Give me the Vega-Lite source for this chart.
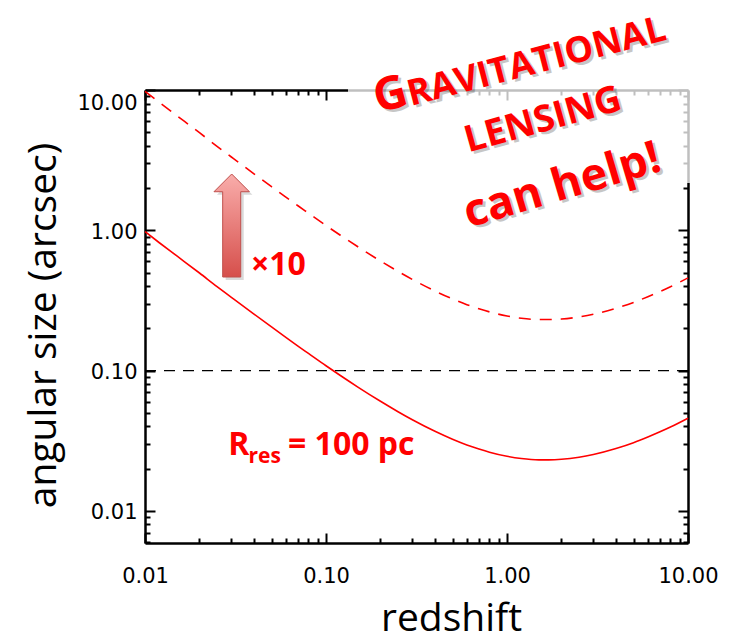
{
  "$schema": "https://vega.github.io/schema/vega-lite/v6.json",
  "width": 543,
  "height": 453,
  "autosize": {"type": "none"},
  "padding": {"left": 145, "top": 90, "right": 43, "bottom": 97},
  "background": "white",
  "config": {
    "view": {"stroke": null},
    "axis": {
      "grid": false,
      "domainColor": "black",
      "domainWidth": 2.5,
      "tickColor": "black",
      "tickWidth": 2,
      "labelFont": "DejaVu Sans",
      "labelFontSize": 21,
      "labelColor": "black",
      "titleFont": "Open Sans",
      "titleFontSize": 39,
      "titleFontWeight": "normal",
      "titleColor": "black"
    }
  },
  "datasets": {
    "resolved": [
      {"z": 0.01, "theta": 0.978}, {"z": 0.012, "theta": 0.815}, {"z": 0.015, "theta": 0.656},
      {"z": 0.02, "theta": 0.496}, {"z": 0.025, "theta": 0.397}, {"z": 0.03, "theta": 0.333},
      {"z": 0.04, "theta": 0.2527}, {"z": 0.05, "theta": 0.2046}, {"z": 0.06, "theta": 0.1725},
      {"z": 0.07, "theta": 0.1496}, {"z": 0.08, "theta": 0.1325}, {"z": 0.1, "theta": 0.1082},
      {"z": 0.12, "theta": 0.0922}, {"z": 0.15, "theta": 0.0763}, {"z": 0.2, "theta": 0.0604},
      {"z": 0.25, "theta": 0.0509}, {"z": 0.3, "theta": 0.0446}, {"z": 0.4, "theta": 0.0369},
      {"z": 0.5, "theta": 0.0324}, {"z": 0.6, "theta": 0.0295}, {"z": 0.7, "theta": 0.0276},
      {"z": 0.8, "theta": 0.0262}, {"z": 1.0, "theta": 0.0245}, {"z": 1.2, "theta": 0.0236},
      {"z": 1.5, "theta": 0.0231}, {"z": 1.7, "theta": 0.0231}, {"z": 2.0, "theta": 0.0233},
      {"z": 2.5, "theta": 0.0241}, {"z": 3.0, "theta": 0.0252}, {"z": 4.0, "theta": 0.0278},
      {"z": 5.0, "theta": 0.0306}, {"z": 6.0, "theta": 0.0336}, {"z": 7.0, "theta": 0.0366},
      {"z": 8.0, "theta": 0.0396}, {"z": 10.0, "theta": 0.0458}
    ],
    "lensed": [
      {"z": 0.01, "theta": 9.78}, {"z": 0.012, "theta": 8.15}, {"z": 0.015, "theta": 6.56},
      {"z": 0.02, "theta": 4.96}, {"z": 0.025, "theta": 3.97}, {"z": 0.03, "theta": 3.33},
      {"z": 0.04, "theta": 2.527}, {"z": 0.05, "theta": 2.046}, {"z": 0.06, "theta": 1.725},
      {"z": 0.07, "theta": 1.496}, {"z": 0.08, "theta": 1.325}, {"z": 0.1, "theta": 1.082},
      {"z": 0.12, "theta": 0.922}, {"z": 0.15, "theta": 0.763}, {"z": 0.2, "theta": 0.604},
      {"z": 0.25, "theta": 0.509}, {"z": 0.3, "theta": 0.446}, {"z": 0.4, "theta": 0.369},
      {"z": 0.5, "theta": 0.324}, {"z": 0.6, "theta": 0.295}, {"z": 0.7, "theta": 0.276},
      {"z": 0.8, "theta": 0.262}, {"z": 1.0, "theta": 0.245}, {"z": 1.2, "theta": 0.236},
      {"z": 1.5, "theta": 0.231}, {"z": 1.7, "theta": 0.231}, {"z": 2.0, "theta": 0.233},
      {"z": 2.5, "theta": 0.241}, {"z": 3.0, "theta": 0.252}, {"z": 4.0, "theta": 0.278},
      {"z": 5.0, "theta": 0.306}, {"z": 6.0, "theta": 0.336}, {"z": 7.0, "theta": 0.366},
      {"z": 8.0, "theta": 0.396}, {"z": 10.0, "theta": 0.458}
    ]
  },
  "layer": [
    {
      "description": "resolution limit at 0.1 arcsec",
      "data": {"values": [{}]},
      "mark": {"type": "rule", "color": "black", "strokeWidth": 1.3, "strokeDash": [11, 8]},
      "encoding": {
        "y": {"datum": 0.1, "type": "quantitative", "scale": {"type": "log", "domain": [0.0059, 10], "nice": false}, "axis": null}
      }
    },
    {
      "description": "angular size of a 100 pc clump",
      "data": {"name": "resolved"},
      "mark": {"type": "line", "color": "#ff0000", "strokeWidth": 1.6, "interpolate": "monotone"},
      "encoding": {
        "x": {
          "field": "z", "type": "quantitative",
          "scale": {"type": "log", "domain": [0.01, 10], "nice": false},
          "axis": {
            "orient": "bottom",
            "values": [0.01, 0.02, 0.03, 0.04, 0.05, 0.06, 0.07, 0.08, 0.09, 0.1, 0.2, 0.3, 0.4, 0.5, 0.6, 0.7, 0.8, 0.9, 1, 2, 3, 4, 5, 6, 7, 8, 9, 10],
            "tickSize": {"condition": {"test": "indexof([0.01, 0.1, 1, 10], datum.value) >= 0", "value": -10}, "value": -5},
            "labelExpr": "indexof([0.01, 0.1, 1, 10], datum.value) >= 0 ? format(datum.value, '.2f') : ''",
            "labelFlush": false,
            "labelOverlap": false,
            "labelPadding": 32,
            "title": "redshift",
            "titleX": 306,
            "titleY": 87,
            "titleBaseline": "alphabetic",
            "titleAlign": "center"
          }
        },
        "y": {
          "field": "theta", "type": "quantitative",
          "scale": {"type": "log", "domain": [0.0059, 10], "nice": false},
          "axis": {
            "orient": "left",
            "values": [0.006, 0.007, 0.008, 0.009, 0.01, 0.02, 0.03, 0.04, 0.05, 0.06, 0.07, 0.08, 0.09, 0.1, 0.2, 0.3, 0.4, 0.5, 0.6, 0.7, 0.8, 0.9, 1, 2, 3, 4, 5, 6, 7, 8, 9, 10],
            "tickSize": {"condition": {"test": "indexof([0.01, 0.1, 1, 10], datum.value) >= 0", "value": -10}, "value": -5},
            "labelExpr": "indexof([0.01, 0.1, 1, 10], datum.value) >= 0 ? format(datum.value, '.2f') : ''",
            "labelFlush": true,
            "labelOverlap": false,
            "labelPadding": 18,
            "labelOffset": 2,
            "title": "angular size (arcsec)",
            "titleAngle": -90,
            "titleX": -90,
            "titleY": 235,
            "titleBaseline": "alphabetic",
            "titleAlign": "center"
          }
        }
      }
    },
    {
      "description": "same clump magnified ten times",
      "data": {"name": "lensed"},
      "mark": {"type": "line", "color": "#ff0000", "strokeWidth": 1.6, "strokeDash": [12, 9], "interpolate": "monotone"},
      "encoding": {
        "x": {
          "field": "z", "type": "quantitative",
          "scale": {"type": "log", "domain": [0.01, 10], "nice": false},
          "axis": {
            "orient": "top",
            "values": [0.01, 0.02, 0.03, 0.04, 0.05, 0.06, 0.07, 0.08, 0.09, 0.1, 0.2, 0.3, 0.4, 0.5, 0.6, 0.7, 0.8, 0.9, 1, 2, 3, 4, 5, 6, 7, 8, 9, 10],
            "tickSize": {"condition": {"test": "indexof([0.01, 0.1, 1, 10], datum.value) >= 0", "value": -10}, "value": -5},
            "labels": false,
            "title": null
          }
        },
        "y": {
          "field": "theta", "type": "quantitative",
          "scale": {"type": "log", "domain": [0.0059, 10], "nice": false},
          "axis": {
            "orient": "right",
            "values": [0.006, 0.007, 0.008, 0.009, 0.01, 0.02, 0.03, 0.04, 0.05, 0.06, 0.07, 0.08, 0.09, 0.1, 0.2, 0.3, 0.4, 0.5, 0.6, 0.7, 0.8, 0.9, 1, 2, 3, 4, 5, 6, 7, 8, 9, 10],
            "tickSize": {"condition": {"test": "indexof([0.01, 0.1, 1, 10], datum.value) >= 0", "value": -10}, "value": -5},
            "labels": false,
            "title": null
          }
        }
      }
    },
    {
      "description": "translucent backing of the callout box",
      "data": {"values": [{}]},
      "mark": {"type": "rect", "fill": "white", "opacity": 0.75},
      "encoding": {
        "x": {"datum": 0.1323, "type": "quantitative", "axis": null},
        "x2": {"datum": 20},
        "y": {"datum": 2.173, "type": "quantitative", "axis": null},
        "y2": {"datum": 40}
      }
    },
    {
      "description": "magnification arrow",
      "data": {"values": [{"z": 0.03013, "theta": 1.0816}]},
      "encoding": {
        "x": {"field": "z", "type": "quantitative", "axis": null},
        "y": {"field": "theta", "type": "quantitative", "axis": null}
      },
      "layer": [
        {
          "mark": {"type": "point", "shape": "M0,-1L0.344,-0.656L0.175,-0.656L0.175,1L-0.175,1L-0.175,-0.656L-0.344,-0.656Z", "size": 10609, "filled": true, "fill": "#000000", "fillOpacity": 0.15, "strokeWidth": 0, "xOffset": 3, "yOffset": 3}
        },
        {
          "mark": {
            "type": "point",
            "shape": "M0,-1L0.344,-0.656L0.175,-0.656L0.175,1L-0.175,1L-0.175,-0.656L-0.344,-0.656Z",
            "size": 10609,
            "filled": true,
            "fill": {"gradient": "linear", "x1": 0, "y1": 0, "x2": 0, "y2": 1, "stops": [{"offset": 0, "color": "#f9adab"}, {"offset": 1, "color": "#d64f4b"}]},
            "fillOpacity": 1,
            "stroke": "#c0504d",
            "strokeWidth": 1,
            "opacity": 1
          }
        }
      ]
    },
    {
      "data": {"values": [{"z": 0.03852, "theta": 0.48, "label": "×10"}]},
      "mark": {"type": "text", "font": "Open Sans", "fontWeight": "bold", "fontSize": 32, "color": "#ff0000", "align": "left", "baseline": "alphabetic"},
      "encoding": {
        "x": {"field": "z", "type": "quantitative", "axis": null},
        "y": {"field": "theta", "type": "quantitative", "axis": null},
        "text": {"field": "label"}
      }
    },
    {
      "data": {"values": [{"z": 0.02885, "theta": 0.02501, "label": "R"}, {"z": 0.06166, "theta": 0.02501, "label": "= 100 pc"}]},
      "mark": {"type": "text", "font": "Open Sans", "fontWeight": "bold", "fontSize": 32, "color": "#ff0000", "align": "left", "baseline": "alphabetic"},
      "encoding": {
        "x": {"field": "z", "type": "quantitative", "axis": null},
        "y": {"field": "theta", "type": "quantitative", "axis": null},
        "text": {"field": "label"}
      }
    },
    {
      "data": {"values": [{"z": 0.03731, "theta": 0.02182, "label": "res"}]},
      "mark": {"type": "text", "font": "Open Sans", "fontWeight": "bold", "fontSize": 21, "color": "#ff0000", "align": "left", "baseline": "alphabetic"},
      "encoding": {
        "x": {"field": "z", "type": "quantitative", "axis": null},
        "y": {"field": "theta", "type": "quantitative", "axis": null},
        "text": {"field": "label"}
      }
    },
    {
      "description": "callout, first line: large initial",
      "data": {"values": [{"z": 0.19379, "theta": 6.856, "label": "G"}]},
      "encoding": {
        "x": {"field": "z", "type": "quantitative", "axis": null},
        "y": {"field": "theta", "type": "quantitative", "axis": null},
        "text": {"field": "label"}
      },
      "layer": [
        {"mark": {"type": "text", "font": "Open Sans", "fontWeight": "bold", "fontSize": 46, "angle": -15, "align": "left", "baseline": "alphabetic", "color": "#000000", "opacity": 0.22, "dx": 2, "dy": 3}},
        {"mark": {"type": "text", "font": "Open Sans", "fontWeight": "bold", "fontSize": 46, "angle": -15, "align": "left", "baseline": "alphabetic", "color": "#ff0000"}}
      ]
    },
    {
      "description": "callout, first line: small capitals",
      "data": {"values": [{"z": 0.2943, "theta": 7.7, "label": "RAVITATIONAL"}]},
      "encoding": {
        "x": {"field": "z", "type": "quantitative", "axis": null},
        "y": {"field": "theta", "type": "quantitative", "axis": null},
        "text": {"field": "label"}
      },
      "layer": [
        {"mark": {"type": "text", "font": "Open Sans", "fontWeight": "bold", "fontSize": 36, "angle": -14.5, "align": "left", "baseline": "alphabetic", "color": "#000000", "opacity": 0.22, "dx": 2, "dy": 3}},
        {"mark": {"type": "text", "font": "Open Sans", "fontWeight": "bold", "fontSize": 36, "angle": -14.5, "align": "left", "baseline": "alphabetic", "color": "#ff0000"}}
      ]
    },
    {
      "description": "callout, second line",
      "data": {"values": [{"z": 1.6425, "theta": 5.102, "label": "LENSING"}]},
      "encoding": {
        "x": {"field": "z", "type": "quantitative", "axis": null},
        "y": {"field": "theta", "type": "quantitative", "axis": null},
        "text": {"field": "label"}
      },
      "layer": [
        {"mark": {"type": "text", "font": "Open Sans", "fontWeight": "bold", "fontSize": 37, "angle": -15.5, "align": "center", "baseline": "alphabetic", "color": "#000000", "opacity": 0.22, "dx": 2, "dy": 3}},
        {"mark": {"type": "text", "font": "Open Sans", "fontWeight": "bold", "fontSize": 37, "angle": -15.5, "align": "center", "baseline": "alphabetic", "color": "#ff0000"}}
      ]
    },
    {
      "description": "callout, third line",
      "data": {"values": [{"z": 2.1184, "theta": 1.6712, "label": "can help!"}]},
      "encoding": {
        "x": {"field": "z", "type": "quantitative", "axis": null},
        "y": {"field": "theta", "type": "quantitative", "axis": null},
        "text": {"field": "label"}
      },
      "layer": [
        {"mark": {"type": "text", "font": "Open Sans", "fontWeight": "bold", "fontSize": 45, "angle": -16.5, "align": "center", "baseline": "alphabetic", "color": "#000000", "opacity": 0.22, "dx": 2, "dy": 3}},
        {"mark": {"type": "text", "font": "Open Sans", "fontWeight": "bold", "fontSize": 45, "angle": -16.5, "align": "center", "baseline": "alphabetic", "color": "#ff0000"}}
      ]
    }
  ]
}
